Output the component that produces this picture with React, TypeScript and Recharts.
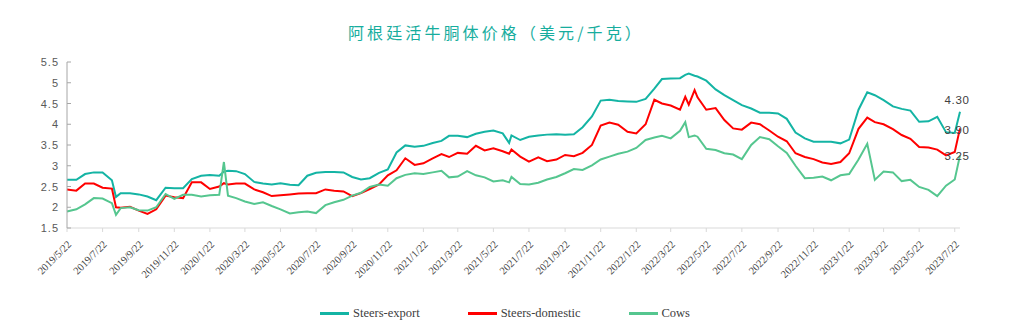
import React from 'react';
import { LineChart, Line, XAxis, YAxis } from 'recharts';

// 采样日期（半月一个点，另加几个尖峰处的日期）
const dates = [
  '2019-05-22', '2019-06-07', '2019-06-22', '2019-07-07', '2019-07-22', '2019-08-07', '2019-08-14', '2019-08-22',
  '2019-09-07', '2019-09-22', '2019-10-07', '2019-10-22', '2019-11-07', '2019-11-22', '2019-12-07', '2019-12-22',
  '2020-01-07', '2020-01-22', '2020-02-07', '2020-02-15', '2020-02-22', '2020-03-07', '2020-03-22', '2020-04-07',
  '2020-04-22', '2020-05-07', '2020-05-22', '2020-06-07', '2020-06-22', '2020-07-07', '2020-07-22', '2020-08-07',
  '2020-08-22', '2020-09-07', '2020-09-22', '2020-10-07', '2020-10-22', '2020-11-07', '2020-11-22', '2020-12-07',
  '2020-12-22', '2021-01-07', '2021-01-22', '2021-02-07', '2021-02-22', '2021-03-07', '2021-03-22', '2021-04-07',
  '2021-04-22', '2021-05-07', '2021-05-22', '2021-06-07', '2021-06-18', '2021-06-22', '2021-07-07', '2021-07-22',
  '2021-08-07', '2021-08-22', '2021-09-07', '2021-09-22', '2021-10-07', '2021-10-22', '2021-11-07', '2021-11-22',
  '2021-12-07', '2021-12-22', '2022-01-07', '2022-01-22', '2022-02-07', '2022-02-22', '2022-03-07', '2022-03-22',
  '2022-04-07', '2022-04-16', '2022-04-22', '2022-05-02', '2022-05-07', '2022-05-22', '2022-06-07', '2022-06-22',
  '2022-07-07', '2022-07-22', '2022-08-07', '2022-08-22', '2022-09-07', '2022-09-22', '2022-10-07', '2022-10-22',
  '2022-11-07', '2022-11-22', '2022-12-07', '2022-12-22', '2023-01-07', '2023-01-22', '2023-02-07', '2023-02-22',
  '2023-03-07', '2023-03-22', '2023-04-07', '2023-04-22', '2023-05-07', '2023-05-22', '2023-06-07', '2023-06-22',
  '2023-07-07', '2023-07-22', '2023-07-31',
];

const steersExport = [
  2.66, 2.66, 2.80, 2.84, 2.84, 2.65, 2.25, 2.34,
  2.34, 2.31, 2.26, 2.17, 2.47, 2.46, 2.46, 2.68,
  2.76, 2.78, 2.76, 2.86, 2.88, 2.87, 2.80, 2.61,
  2.57, 2.55, 2.58, 2.54, 2.53, 2.76, 2.83, 2.85,
  2.85, 2.84, 2.73, 2.67, 2.70, 2.83, 2.91, 3.32,
  3.49, 3.46, 3.48, 3.55, 3.60, 3.72, 3.72, 3.69,
  3.77, 3.82, 3.85, 3.78, 3.55, 3.73, 3.62, 3.70,
  3.73, 3.75, 3.76, 3.75, 3.76, 3.93, 4.19, 4.57,
  4.59, 4.56, 4.55, 4.54, 4.61, 4.86, 5.09, 5.10,
  5.11, 5.19, 5.22, 5.17, 5.15, 5.05, 4.84, 4.70,
  4.58, 4.46, 4.38, 4.28, 4.28, 4.26, 4.13, 3.80,
  3.66, 3.58, 3.58, 3.58, 3.54, 3.63, 4.35, 4.77,
  4.70, 4.58, 4.43, 4.37, 4.33, 4.06, 4.07, 4.18,
  3.81, 3.79, 4.30,
];

const steersDomestic = [
  2.43, 2.40, 2.57, 2.57, 2.47, 2.45, 2.00, 1.99,
  2.01, 1.92, 1.84, 1.95, 2.28, 2.24, 2.22, 2.60,
  2.60, 2.44, 2.50, 2.58, 2.55, 2.57, 2.57, 2.43,
  2.36, 2.27, 2.29, 2.31, 2.33, 2.34, 2.34, 2.43,
  2.40, 2.38, 2.27, 2.34, 2.44, 2.55, 2.77, 2.89,
  3.18, 3.02, 3.06, 3.18, 3.28, 3.21, 3.31, 3.29,
  3.48, 3.37, 3.42, 3.35, 3.29, 3.39, 3.22, 3.10,
  3.20, 3.11, 3.15, 3.26, 3.23, 3.31, 3.50, 3.97,
  4.04, 3.99, 3.82, 3.78, 4.00, 4.59, 4.50, 4.45,
  4.35, 4.66, 4.47, 4.82, 4.65, 4.35, 4.39, 4.10,
  3.90, 3.87, 4.04, 4.00, 3.85, 3.70, 3.59, 3.30,
  3.21, 3.16, 3.08, 3.04, 3.09, 3.30, 3.89, 4.16,
  4.05, 4.00, 3.88, 3.74, 3.65, 3.45, 3.44, 3.39,
  3.25, 3.33, 3.90,
];

const cows = [
  1.90, 1.95, 2.07, 2.22, 2.21, 2.10, 1.82, 1.98,
  2.00, 1.93, 1.92, 2.00, 2.32, 2.20, 2.30, 2.30,
  2.26, 2.29, 2.30, 3.09, 2.28, 2.22, 2.14, 2.08,
  2.12, 2.03, 1.95, 1.85, 1.88, 1.90, 1.86, 2.05,
  2.12, 2.18, 2.28, 2.35, 2.49, 2.55, 2.52, 2.70,
  2.78, 2.82, 2.80, 2.84, 2.88, 2.72, 2.74, 2.87,
  2.77, 2.72, 2.62, 2.65, 2.60, 2.73, 2.56, 2.55,
  2.59, 2.67, 2.73, 2.82, 2.92, 2.90, 3.01, 3.15,
  3.22, 3.29, 3.34, 3.43, 3.62, 3.68, 3.72, 3.66,
  3.84, 4.05, 3.69, 3.73, 3.70, 3.41, 3.38, 3.30,
  3.27, 3.16, 3.50, 3.69, 3.64, 3.47, 3.31, 3.00,
  2.70, 2.71, 2.74, 2.65, 2.77, 2.80, 3.15, 3.53,
  2.66, 2.86, 2.84, 2.63, 2.66, 2.49, 2.42, 2.27,
  2.52, 2.67, 3.25,
];

const xTickLabels = [
  '2019/5/22', '2019/7/22', '2019/9/22', '2019/11/22', '2020/1/22', '2020/3/22', '2020/5/22',
  '2020/7/22', '2020/9/22', '2020/11/22', '2021/1/22', '2021/3/22', '2021/5/22', '2021/7/22',
  '2021/9/22', '2021/11/22', '2022/1/22', '2022/3/22', '2022/5/22', '2022/7/22', '2022/9/22',
  '2022/11/22', '2023/1/22', '2023/3/22', '2023/5/22', '2023/7/22',
];

const yTicks = [1.5, 2, 2.5, 3, 3.5, 4, 4.5, 5, 5.5];

const seriesNames = ['Steers-export', 'Steers-domestic', 'Cows'];
const colors = ['#14b4a4', '#ff0000', '#55c68f'];

const toTime = (s: string) => {
  const [y, m, d] = s.split(/[-/]/).map(Number);
  return Date.UTC(y, m - 1, d);
};

const fmtDate = (t: number) => {
  const d = new Date(t);
  return `${d.getUTCFullYear()}/${d.getUTCMonth() + 1}/${d.getUTCDate()}`;
};

const chartData = dates.map((d, i) => ({
  t: toTime(d),
  exp: steersExport[i],
  dom: steersDomestic[i],
  cows: cows[i],
}));

const xTicks = xTickLabels.map(toTime);
const lastIndex = chartData.length - 1;

const DateTick = (props: any) => {
  const { x, y, payload } = props;
  return (
    <g transform={`translate(${x},${y})`}>
      <text
        x={5}
        y={11}
        textAnchor="end"
        transform="rotate(-45 5 11)"
        fill="#404040"
        fontSize={10.5}
        fontFamily="'Liberation Serif', 'Times New Roman', serif"
      >
        {fmtDate(payload.value)}
      </text>
    </g>
  );
};

const ValueTick = (props: any) => {
  const { x, y, payload } = props;
  return (
    <g>
      <line x1={x + 8} x2={x + 12} y1={y} y2={y} stroke="#a6a6a6" />
      <text
        x={x}
        y={y}
        dy={4}
        textAnchor="end"
        fill="#595959"
        fontSize={11}
        letterSpacing={1}
        fontFamily="'Liberation Sans', Arial, sans-serif"
      >
        {payload.value}
      </text>
    </g>
  );
};

// 末端数值标签
const endLabel = (dy: number) => (props: any) => {
  const { cx, cy, index, value } = props;
  if (index !== lastIndex) return <g key={`d-${index}`} />;
  return (
    <text
      key={`d-${index}`}
      x={cx - 3}
      y={cy + dy}
      textAnchor="middle"
      fill="#404040"
      fontSize={11.5}
      letterSpacing={0.6}
      fontFamily="'Liberation Sans', Arial, sans-serif"
    >
      {Number(value).toFixed(2)}
    </text>
  );
};

const App: React.FC = () => {
  return (
    <div style={{ position: 'absolute', left: 0, top: 0, width: 1035, height: 332, background: '#fff' }}>
      <div
        style={{
          position: 'absolute',
          left: 348,
          top: 20,
          fontSize: 16,
          letterSpacing: 3.1,
          color: '#17ad9e',
          fontFamily: "'Noto Sans CJK SC', sans-serif",
          whiteSpace: 'nowrap',
        }}
      >
        阿根廷活牛胴体价格（美元/千克）
      </div>

      <LineChart width={1035} height={332} data={chartData} margin={{ top: 62, right: 75, left: 0, bottom: 0 }}>
        <XAxis
          dataKey="t"
          type="number"
          scale="linear"
          domain={[toTime(dates[0]), toTime(dates[lastIndex])]}
          ticks={xTicks}
          interval={0}
          height={104}
          tick={<DateTick />}
          tickSize={4}
          tickMargin={2}
          axisLine={{ stroke: '#d9d9d9' }}
          tickLine={{ stroke: '#d9d9d9' }}
        />
        <YAxis
          type="number"
          domain={[1.5, 5.5]}
          ticks={yTicks}
          interval={0}
          width={67}
          tick={<ValueTick />}
          tickLine={false}
          axisLine={{ stroke: '#a6a6a6' }}
        />
        <Line type="linear" dataKey="exp" name={seriesNames[0]} stroke={colors[0]} strokeWidth={2} dot={endLabel(-8)} activeDot={false} isAnimationActive={false} />
        <Line type="linear" dataKey="dom" name={seriesNames[1]} stroke={colors[1]} strokeWidth={2} dot={endLabel(6)} activeDot={false} isAnimationActive={false} />
        <Line type="linear" dataKey="cows" name={seriesNames[2]} stroke={colors[2]} strokeWidth={2} dot={endLabel(5)} activeDot={false} isAnimationActive={false} />
      </LineChart>

      <div
        style={{
          position: 'absolute',
          left: 320,
          top: 306,
          display: 'flex',
          gap: 48,
          fontFamily: "'Liberation Serif', 'Times New Roman', serif",
          fontSize: 12.5,
          color: '#404040',
        }}
      >
        {seriesNames.map((n, i) => (
          <div key={n} style={{ display: 'flex', alignItems: 'center', gap: 4 }}>
            <span style={{ display: 'inline-block', width: 29, height: 2.5, background: colors[i] }} />
            <span>{n}</span>
          </div>
        ))}
      </div>
    </div>
  );
};

export default App;
